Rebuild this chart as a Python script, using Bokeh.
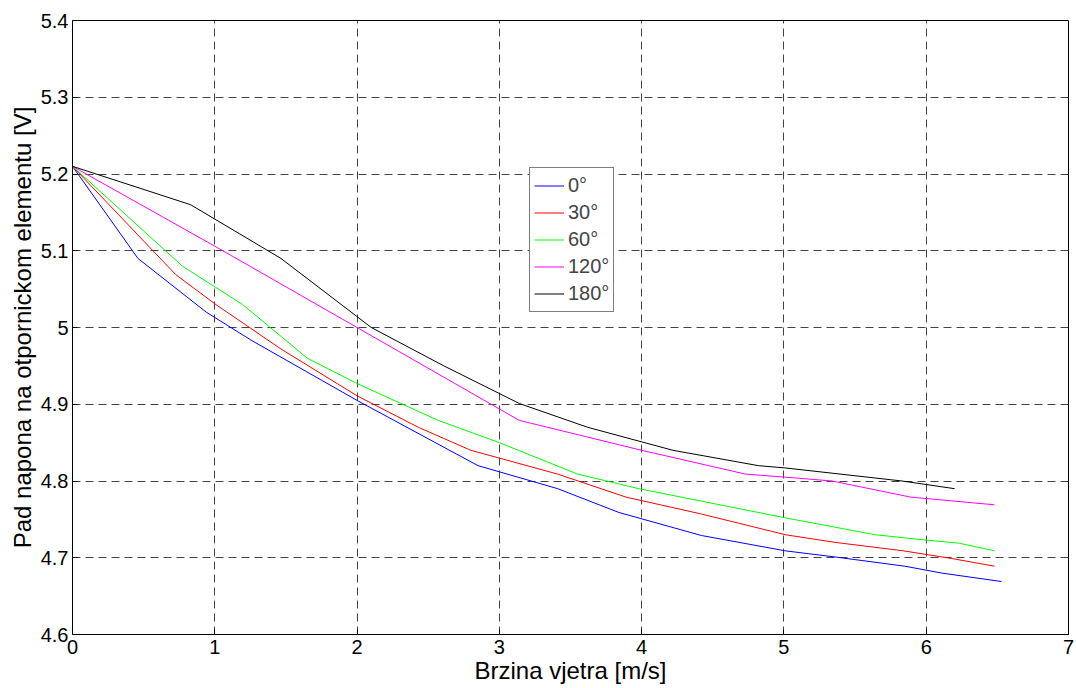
from bokeh.plotting import figure
from bokeh.models import FixedTicker, Legend, LegendItem
from bokeh.embed import file_html
from bokeh.resources import INLINE

# Wind speed [m/s] and voltage drop [V] for each angle of attack
x_0 = [0, 0.46, 0.94, 1.26, 2.0, 2.45, 2.85, 3.41, 3.84, 4.42, 5.01, 5.36, 5.85, 6.11, 6.53]
y_0 = [5.21, 5.09, 5.02, 4.983, 4.905, 4.86, 4.82, 4.79, 4.759, 4.729, 4.709, 4.701, 4.689, 4.68, 4.669]

x_30 = [0, 0.725, 1.007, 1.465, 2.0, 2.43, 2.80, 3.41, 3.89, 4.42, 5.01, 5.36, 5.84, 6.18, 6.48]
y_30 = [5.21, 5.069, 5.03, 4.972, 4.911, 4.87, 4.84, 4.809, 4.779, 4.757, 4.73, 4.72, 4.709, 4.699, 4.689]

x_60 = [0, 0.772, 1.195, 1.65, 2.0, 2.57, 3.0, 3.55, 3.98, 5.01, 5.64, 6.0, 6.23, 6.48]
y_60 = [5.21, 5.08, 5.03, 4.96, 4.927, 4.879, 4.85, 4.809, 4.79, 4.752, 4.73, 4.723, 4.719, 4.709]

x_120 = [0, 1.0, 2.0, 3.14, 4.0, 4.73, 5.01, 5.34, 5.89, 6.48]
y_120 = [5.21, 5.106, 5.0, 4.879, 4.84, 4.809, 4.805, 4.80, 4.779, 4.769]

x_180 = [0, 0.83, 1.465, 2.1, 2.61, 3.14, 3.62, 4.22, 4.82, 5.01, 5.83, 6.2]
y_180 = [5.21, 5.16, 5.09, 5.0, 4.95, 4.901, 4.87, 4.84, 4.82, 4.817, 4.8, 4.79]

series_labels = ["0°", "30°", "60°", "120°", "180°"]
series_colors = ["#0000FF", "#FF0000", "#00FF00", "#FF00FF", "#000000"]

x_ticks = [0, 1, 2, 3, 4, 5, 6, 7]
y_ticks = [4.6, 4.7, 4.8, 4.9, 5.0, 5.1, 5.2, 5.3, 5.4]
y_tick_labels = ["4.6", "4.7", "4.8", "4.9", "5", "5.1", "5.2", "5.3", "5.4"]

FONT = "Liberation Sans"

p = figure(
    width=1076, height=688,
    x_range=(0, 7), y_range=(4.6, 5.4),
    output_backend="svg", toolbar_location=None,
    min_border_left=72, min_border_right=8,
    min_border_top=20, min_border_bottom=54,
    background_fill_color="white", border_fill_color="white",
)
p.outline_line_color = "black"
p.outline_line_width = 1

# axes
p.xaxis.ticker = FixedTicker(ticks=x_ticks)
p.yaxis.ticker = FixedTicker(ticks=y_ticks)
p.yaxis.major_label_overrides = {t: s for t, s in zip(y_ticks, y_tick_labels)}
p.xaxis.major_label_overrides = {t: str(t) for t in x_ticks}
for ax in (p.xaxis, p.yaxis):
    ax.axis_line_color = "black"
    ax.major_tick_in = 5
    ax.major_tick_out = 0
    ax.minor_tick_line_color = None
    ax.major_tick_line_color = "black"
    ax.major_label_text_font = FONT
    ax.major_label_text_font_size = "20px"
    ax.major_label_text_color = "black"
    ax.axis_label_text_font = FONT
    ax.axis_label_text_font_size = "24px"
    ax.axis_label_text_font_style = "normal"
    ax.axis_label_text_color = "black"
p.xaxis.major_label_standoff = 5
p.yaxis.major_label_standoff = 4
p.xaxis.axis_label_standoff = 0
p.yaxis.axis_label_standoff = 2
p.xaxis.axis_label = "Brzina vjetra [m/s]"
p.yaxis.axis_label = "Pad napona na otpornickom elementu [V]"

# dashed grid
for g in (p.xgrid, p.ygrid):
    g.grid_line_color = "#222222"
    g.grid_line_alpha = 0.85
    g.grid_line_dash = "8 5"
    g.grid_line_width = 1

xs = [x_0, x_30, x_60, x_120, x_180]
ys = [y_0, y_30, y_60, y_120, y_180]
items = []
for x, y, lab, col in zip(xs, ys, series_labels, series_colors):
    r = p.line(x, y, line_color=col, line_width=1)
    items.append(LegendItem(label=lab, renderers=[r]))

legend = Legend(
    items=items, location=(457, 322),
    border_line_color="black", border_line_width=1,
    background_fill_color="white", background_fill_alpha=1,
    label_text_font=FONT, label_text_font_size="20px",
    glyph_width=30, glyph_height=27, label_height=27,
    label_standoff=4, padding=4, spacing=0, margin=0,
)
p.add_layout(legend, "center")

open("out.html", "w").write(file_html(p, INLINE))
